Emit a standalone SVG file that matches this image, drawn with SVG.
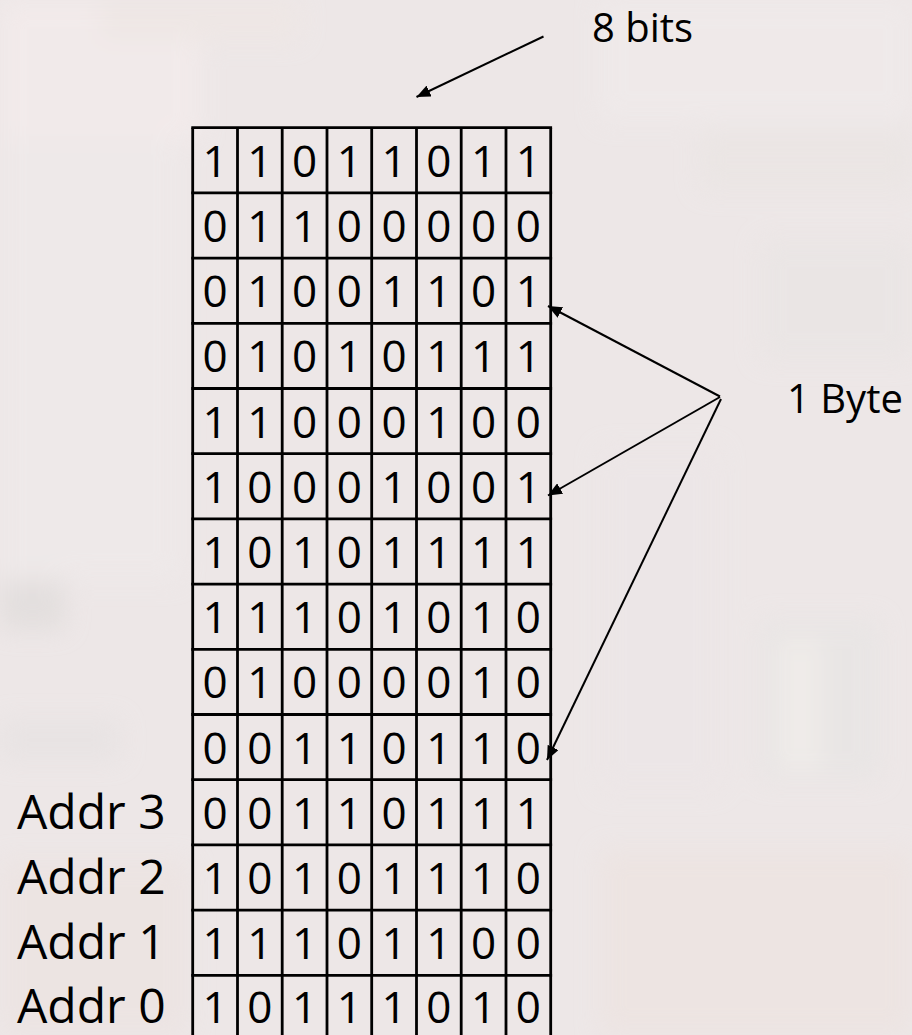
<svg xmlns="http://www.w3.org/2000/svg" width="912" height="1035" viewBox="0 0 912 1035">
<defs>
<filter id="blur" x="-20%" y="-20%" width="140%" height="140%"><feGaussianBlur stdDeviation="12"/></filter>
<marker id="ah" markerUnits="userSpaceOnUse" markerWidth="16" markerHeight="12" refX="14" refY="6" orient="auto">
<path d="M0,0 L14,6 L0,12 Z" fill="#000"/>
</marker>
<style>
.d{font-family:"Open Sans","Noto Sans",sans-serif;font-size:44px;fill:#000;text-anchor:middle}
.lbl{font-family:"Open Sans","Noto Sans",sans-serif;font-size:48px;fill:#000}
.t{font-family:"Open Sans","Noto Sans",sans-serif;font-size:40px;fill:#000}
.grid line{stroke:#000;stroke-width:2.8}
.conn line{stroke:#000;stroke-width:2;fill:none}
</style>
</defs>
<g id="background">
<rect x="0" y="0" width="912" height="1035" fill="#ede7e7"/>
<g filter="url(#blur)" opacity="0.7">
<rect x="0" y="0" width="200" height="140" fill="#f4ecec"/>
<rect x="100" y="0" width="200" height="40" fill="#efe7e4"/>
<rect x="0" y="140" width="180" height="440" fill="#efeaea"/>
<rect x="0" y="580" width="65" height="50" fill="#dfdbda"/>
<rect x="0" y="720" width="120" height="40" fill="#e6e2e2"/>
<rect x="0" y="860" width="190" height="175" fill="#ece3e1"/>
<rect x="600" y="0" width="312" height="120" fill="#f0ebeb"/>
<rect x="700" y="130" width="212" height="60" fill="#eae5e3"/>
<rect x="760" y="240" width="152" height="120" fill="#e9e5e4"/>
<rect x="600" y="450" width="120" height="340" fill="#ece6e7"/>
<rect x="760" y="620" width="120" height="160" fill="#e7e5e4"/>
<rect x="600" y="850" width="312" height="185" fill="#ede3e0"/>
<rect x="780" y="640" width="40" height="130" fill="#f1eeea"/>
</g>
</g>
<g id="memory-grid">
<g class="grid">
<line x1="192.7" y1="127.7" x2="192.7" y2="1035"/>
<line x1="237.5" y1="127.7" x2="237.5" y2="1035"/>
<line x1="282.2" y1="127.7" x2="282.2" y2="1035"/>
<line x1="327" y1="127.7" x2="327" y2="1035"/>
<line x1="371.7" y1="127.7" x2="371.7" y2="1035"/>
<line x1="416.5" y1="127.7" x2="416.5" y2="1035"/>
<line x1="461.2" y1="127.7" x2="461.2" y2="1035"/>
<line x1="506" y1="127.7" x2="506" y2="1035"/>
<line x1="550.7" y1="127.7" x2="550.7" y2="1035"/>
<line x1="191.3" y1="127.7" x2="552.1" y2="127.7"/>
<line x1="191.3" y1="192.9" x2="552.1" y2="192.9"/>
<line x1="191.3" y1="258.1" x2="552.1" y2="258.1"/>
<line x1="191.3" y1="323.3" x2="552.1" y2="323.3"/>
<line x1="191.3" y1="388.5" x2="552.1" y2="388.5"/>
<line x1="191.3" y1="453.7" x2="552.1" y2="453.7"/>
<line x1="191.3" y1="518.9" x2="552.1" y2="518.9"/>
<line x1="191.3" y1="584.1" x2="552.1" y2="584.1"/>
<line x1="191.3" y1="649.3" x2="552.1" y2="649.3"/>
<line x1="191.3" y1="714.5" x2="552.1" y2="714.5"/>
<line x1="191.3" y1="779.7" x2="552.1" y2="779.7"/>
<line x1="191.3" y1="844.9" x2="552.1" y2="844.9"/>
<line x1="191.3" y1="910.1" x2="552.1" y2="910.1"/>
<line x1="191.3" y1="975.3" x2="552.1" y2="975.3"/>
</g>
<g id="row1"><text class="d" y="176.7"><tspan x="215.1">1</tspan><tspan x="259.8">1</tspan><tspan x="304.6">0</tspan><tspan x="349.3">1</tspan><tspan x="394.1">1</tspan><tspan x="438.8">0</tspan><tspan x="483.6">1</tspan><tspan x="528.3">1</tspan></text></g>
<g id="row2"><text class="d" y="241.9"><tspan x="215.1">0</tspan><tspan x="259.8">1</tspan><tspan x="304.6">1</tspan><tspan x="349.3">0</tspan><tspan x="394.1">0</tspan><tspan x="438.8">0</tspan><tspan x="483.6">0</tspan><tspan x="528.3">0</tspan></text></g>
<g id="row3"><text class="d" y="307.1"><tspan x="215.1">0</tspan><tspan x="259.8">1</tspan><tspan x="304.6">0</tspan><tspan x="349.3">0</tspan><tspan x="394.1">1</tspan><tspan x="438.8">1</tspan><tspan x="483.6">0</tspan><tspan x="528.3">1</tspan></text></g>
<g id="row4"><text class="d" y="372.3"><tspan x="215.1">0</tspan><tspan x="259.8">1</tspan><tspan x="304.6">0</tspan><tspan x="349.3">1</tspan><tspan x="394.1">0</tspan><tspan x="438.8">1</tspan><tspan x="483.6">1</tspan><tspan x="528.3">1</tspan></text></g>
<g id="row5"><text class="d" y="437.5"><tspan x="215.1">1</tspan><tspan x="259.8">1</tspan><tspan x="304.6">0</tspan><tspan x="349.3">0</tspan><tspan x="394.1">0</tspan><tspan x="438.8">1</tspan><tspan x="483.6">0</tspan><tspan x="528.3">0</tspan></text></g>
<g id="row6"><text class="d" y="502.7"><tspan x="215.1">1</tspan><tspan x="259.8">0</tspan><tspan x="304.6">0</tspan><tspan x="349.3">0</tspan><tspan x="394.1">1</tspan><tspan x="438.8">0</tspan><tspan x="483.6">0</tspan><tspan x="528.3">1</tspan></text></g>
<g id="row7"><text class="d" y="567.9"><tspan x="215.1">1</tspan><tspan x="259.8">0</tspan><tspan x="304.6">1</tspan><tspan x="349.3">0</tspan><tspan x="394.1">1</tspan><tspan x="438.8">1</tspan><tspan x="483.6">1</tspan><tspan x="528.3">1</tspan></text></g>
<g id="row8"><text class="d" y="633.1"><tspan x="215.1">1</tspan><tspan x="259.8">1</tspan><tspan x="304.6">1</tspan><tspan x="349.3">0</tspan><tspan x="394.1">1</tspan><tspan x="438.8">0</tspan><tspan x="483.6">1</tspan><tspan x="528.3">0</tspan></text></g>
<g id="row9"><text class="d" y="698.3"><tspan x="215.1">0</tspan><tspan x="259.8">1</tspan><tspan x="304.6">0</tspan><tspan x="349.3">0</tspan><tspan x="394.1">0</tspan><tspan x="438.8">0</tspan><tspan x="483.6">1</tspan><tspan x="528.3">0</tspan></text></g>
<g id="row10"><text class="d" y="763.5"><tspan x="215.1">0</tspan><tspan x="259.8">0</tspan><tspan x="304.6">1</tspan><tspan x="349.3">1</tspan><tspan x="394.1">0</tspan><tspan x="438.8">1</tspan><tspan x="483.6">1</tspan><tspan x="528.3">0</tspan></text></g>
<g id="row11"><text class="d" y="828.7"><tspan x="215.1">0</tspan><tspan x="259.8">0</tspan><tspan x="304.6">1</tspan><tspan x="349.3">1</tspan><tspan x="394.1">0</tspan><tspan x="438.8">1</tspan><tspan x="483.6">1</tspan><tspan x="528.3">1</tspan></text></g>
<g id="row12"><text class="d" y="893.9"><tspan x="215.1">1</tspan><tspan x="259.8">0</tspan><tspan x="304.6">1</tspan><tspan x="349.3">0</tspan><tspan x="394.1">1</tspan><tspan x="438.8">1</tspan><tspan x="483.6">1</tspan><tspan x="528.3">0</tspan></text></g>
<g id="row13"><text class="d" y="959.1"><tspan x="215.1">1</tspan><tspan x="259.8">1</tspan><tspan x="304.6">1</tspan><tspan x="349.3">0</tspan><tspan x="394.1">1</tspan><tspan x="438.8">1</tspan><tspan x="483.6">0</tspan><tspan x="528.3">0</tspan></text></g>
<g id="row14"><text class="d" y="1023"><tspan x="215.1">1</tspan><tspan x="259.8">0</tspan><tspan x="304.6">1</tspan><tspan x="349.3">1</tspan><tspan x="394.1">1</tspan><tspan x="438.8">0</tspan><tspan x="483.6">1</tspan><tspan x="528.3">0</tspan></text></g>
</g>
<g id="addr-labels">
<text class="lbl" x="17" y="828.5">Addr 3</text>
<text class="lbl" x="17" y="893.7">Addr 2</text>
<text class="lbl" x="17" y="958.9">Addr 1</text>
<text class="lbl" x="17" y="1023">Addr 0</text>
</g>
<g id="label-8bits"><text class="t" x="592" y="42">8 bits</text></g>
<g id="label-1byte"><text class="t" x="787" y="412.7">1 Byte</text></g>
<g id="connectors" class="conn">
<line x1="543.5" y1="36.5" x2="416.5" y2="97" marker-end="url(#ah)"/>
<line x1="720" y1="396.5" x2="548" y2="306" marker-end="url(#ah)"/>
<line x1="720" y1="397" x2="548" y2="495.5" marker-end="url(#ah)"/>
<line x1="721" y1="399" x2="547" y2="760" marker-end="url(#ah)"/>
</g>
</svg>
